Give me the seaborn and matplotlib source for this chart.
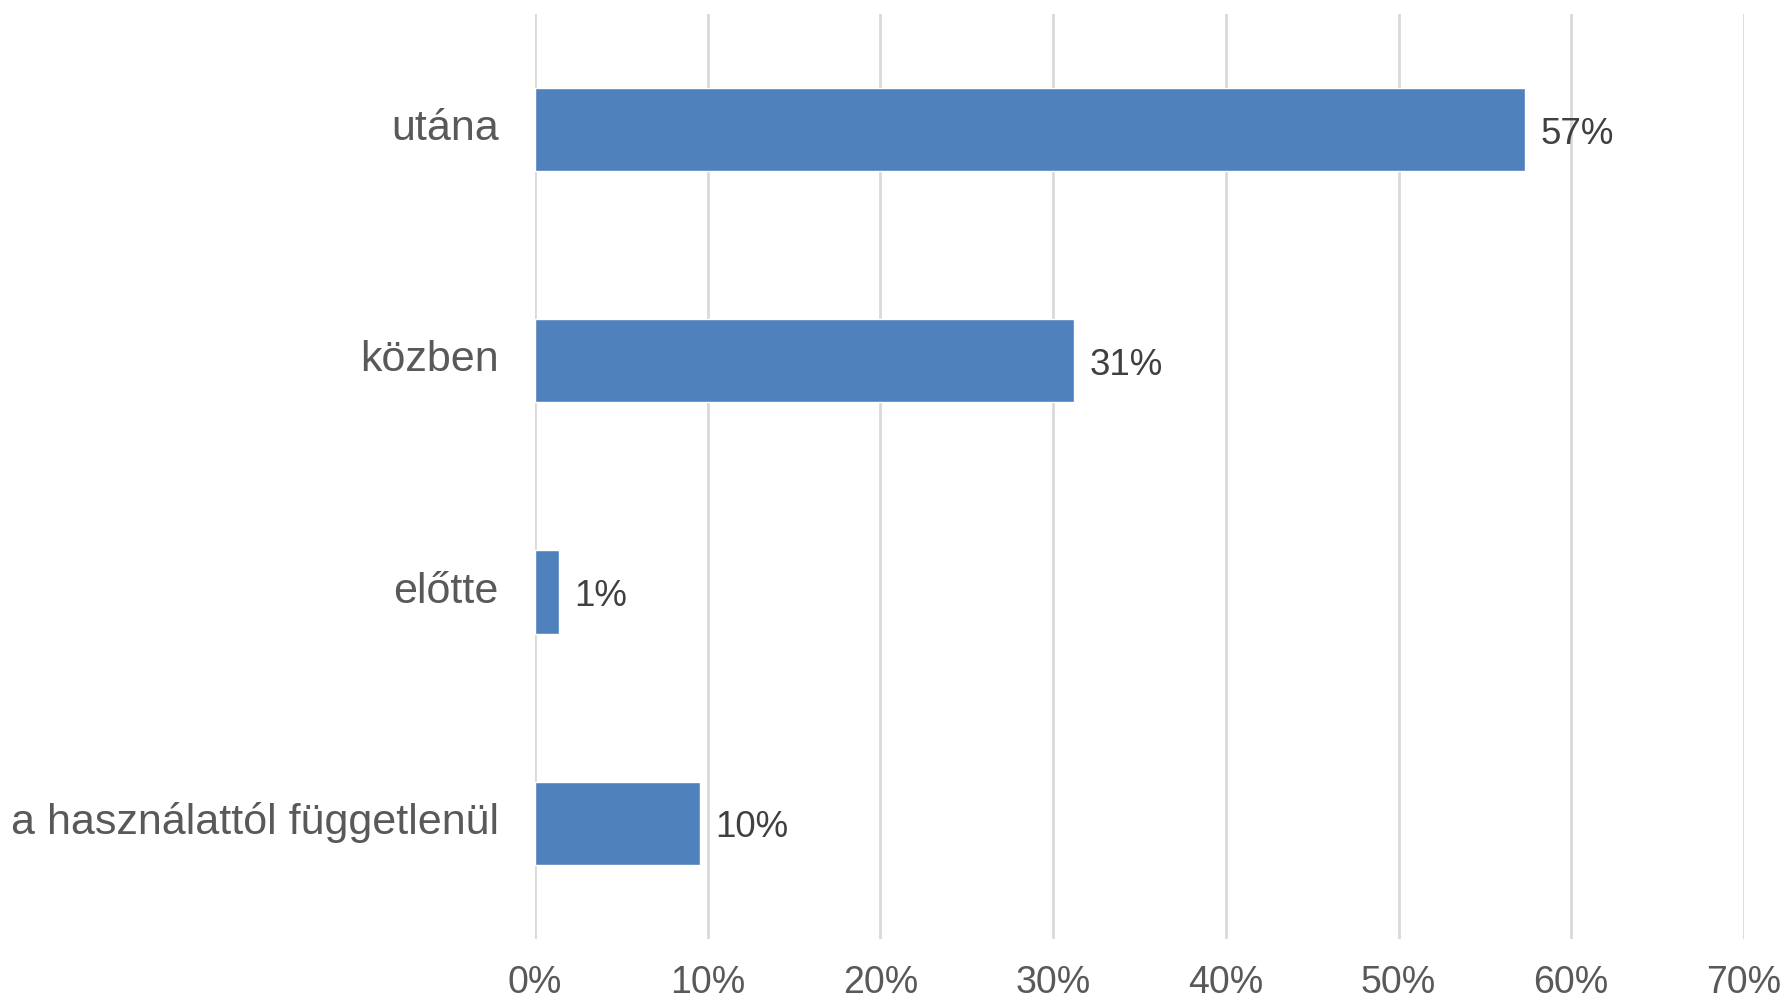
import matplotlib
matplotlib.use("Agg")
import matplotlib.pyplot as plt
import matplotlib.transforms as mtransforms
import seaborn as sns
import pandas as pd
from matplotlib.ticker import PercentFormatter, MultipleLocator

# ── Data ─────────────────────────────────────────────────
categories  = ["utána", "közben", "előtte", "a használattól függetlenül"]
shares      = [0.573, 0.312, 0.014, 0.0955]
share_label = ["57%", "31%", "1%", "10%"]

BAR_COLOR  = "#4F81BD"
TEXT_COLOR = "#595959"
GRID_COLOR = "#D9D9D9"

df = pd.DataFrame({"category": categories, "share": shares})

sns.set_theme(style="white")
plt.rcParams["font.family"] = ["Liberation Sans", "DejaVu Sans"]

fig = plt.figure(figsize=(17.85, 10.01), dpi=100)
ax = fig.add_axes([0.2997, 0.062, 0.6773, 0.924])

sns.barplot(data=df, x="share", y="category", orient="h",
            color=BAR_COLOR, saturation=1, width=0.36, ax=ax)

ax.set_xlim(0, 0.7)
ax.set_ylim(3.5, -0.5)
ax.xaxis.set_major_locator(MultipleLocator(0.1))
ax.xaxis.set_major_formatter(PercentFormatter(1.0, decimals=0))
ax.grid(axis="x", color=GRID_COLOR, linewidth=2)
ax.set_axisbelow(True)
ax.set_xlabel(""); ax.set_ylabel("")
for s in ax.spines.values():
    s.set_visible(False)

ax.tick_params(axis="x", length=0, pad=19, labelsize=27, labelcolor=TEXT_COLOR)
ax.tick_params(axis="y", length=0, pad=26, labelsize=31, labelcolor=TEXT_COLOR)
# nudge category labels up a little
shift = mtransforms.ScaledTranslation(0, 3.5 / 72, fig.dpi_scale_trans)
for t in ax.get_yticklabels():
    t.set_transform(t.get_transform() + shift)

for bar, lab in zip(ax.patches, share_label):
    ax.text(bar.get_width() + 0.009, bar.get_y() + bar.get_height() / 2 + 0.02,
            lab, ha="left", va="center", fontsize=26.5, color="#404040")

fig.savefig("out.png", dpi=100, facecolor="white")
